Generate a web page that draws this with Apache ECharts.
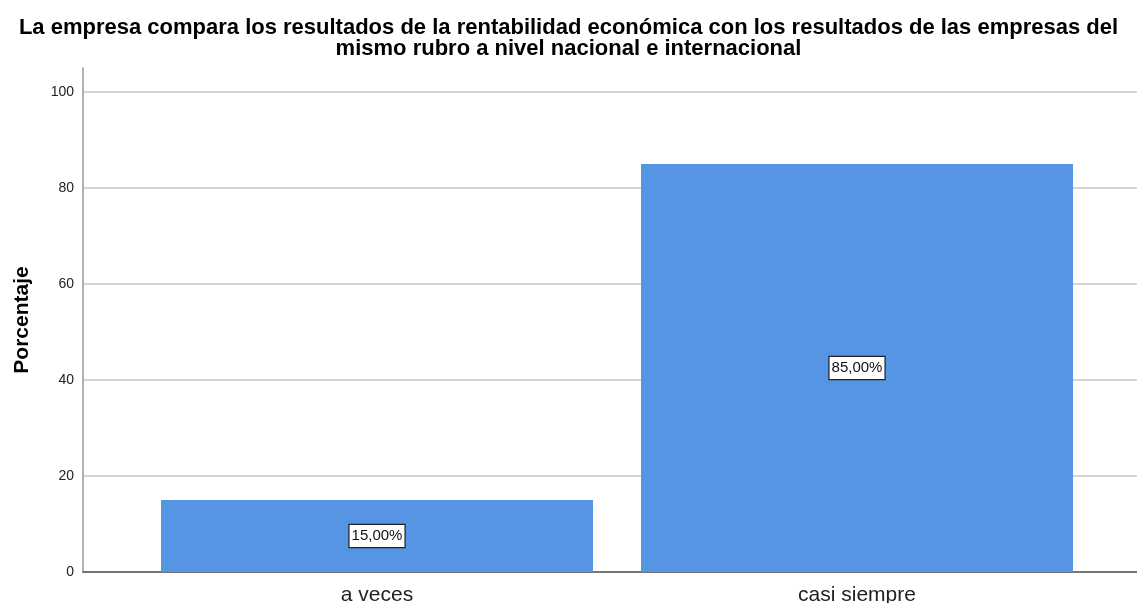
<!DOCTYPE html>
<html>
<head>
<meta charset="utf-8">
<script src="https://cdn.jsdelivr.net/npm/echarts@6/dist/echarts.min.js"></script>
<style>html,body{margin:0;padding:0;background:#fff}#c{width:1137px;height:603px}</style>
</head>
<body>
<div id="c"></div>
<script>
const titleText = 'La empresa compara los resultados de la rentabilidad económica con los resultados de las empresas del\nmismo rubro a nivel nacional e internacional';
const categories = ['a veces', 'casi siempre'];
const percentValues = [15, 85];
const yAxisName = 'Porcentaje';

const font = 'Liberation Sans, Arial, sans-serif';
const chart = echarts.init(document.getElementById('c'));
chart.setOption({
  backgroundColor: '#fff',
  animation: false,
  title: {
    text: titleText, left: 'center', top: 17, padding: 0,
    textStyle: { fontFamily: font, fontSize: 22, fontWeight: 'bold', color: '#000', lineHeight: 21, align: 'center' }
  },
  grid: [
    { left: 83, right: 0, top: 68, bottom: 31, outerBoundsMode: 'none', containLabel: false },
    { left: 137, right: 40, top: 68, bottom: 31, outerBoundsMode: 'none', containLabel: false }
  ],
  xAxis: [
    { gridIndex: 0, type: 'value', min: 0, max: 1, show: true,
      axisLine: { show: true, onZero: false, lineStyle: { color: '#555', width: 1.5 } },
      axisTick: { show: false }, axisLabel: { show: false }, splitLine: { show: false } },
    { gridIndex: 1, type: 'category', data: categories,
      axisLine: { show: false }, axisTick: { show: false },
      axisLabel: { fontFamily: font, fontSize: 21, color: '#222', margin: 13 } }
  ],
  yAxis: [
    { gridIndex: 0, type: 'value', min: 0, max: 105, interval: 20,
      name: yAxisName, nameLocation: 'middle', nameGap: 50, nameRotate: 90,
      nameTextStyle: { fontFamily: font, fontSize: 21, fontWeight: 'bold', color: '#000' },
      axisLine: { show: true, lineStyle: { color: '#999', width: 1.5 } },
      axisTick: { show: false },
      axisLabel: { fontFamily: font, fontSize: 14, color: '#222', margin: 9, showMaxLabel: false,
        formatter: v => (v % 20 === 0 ? String(v) : '') },
      splitLine: { show: true, showMaxLine: false, lineStyle: { color: '#c8c8c8', width: 1.5 } } },
    { gridIndex: 1, type: 'value', min: 0, max: 105, interval: 20, show: false, splitLine: { show: false } }
  ],
  series: [{
    type: 'bar', xAxisIndex: 1, yAxisIndex: 1, data: percentValues, barWidth: '90%',
    itemStyle: { color: '#5595E3' },
    label: {
      show: true, position: 'inside', fontFamily: font, fontSize: 15, color: '#111',
      backgroundColor: '#fff', borderColor: '#222', borderWidth: 1.2, padding: [4, 2, 3, 2],
      formatter: p => p.value.toFixed(2).replace('.', ',') + '%'
    }
  }]
});
</script>
</body>
</html>
